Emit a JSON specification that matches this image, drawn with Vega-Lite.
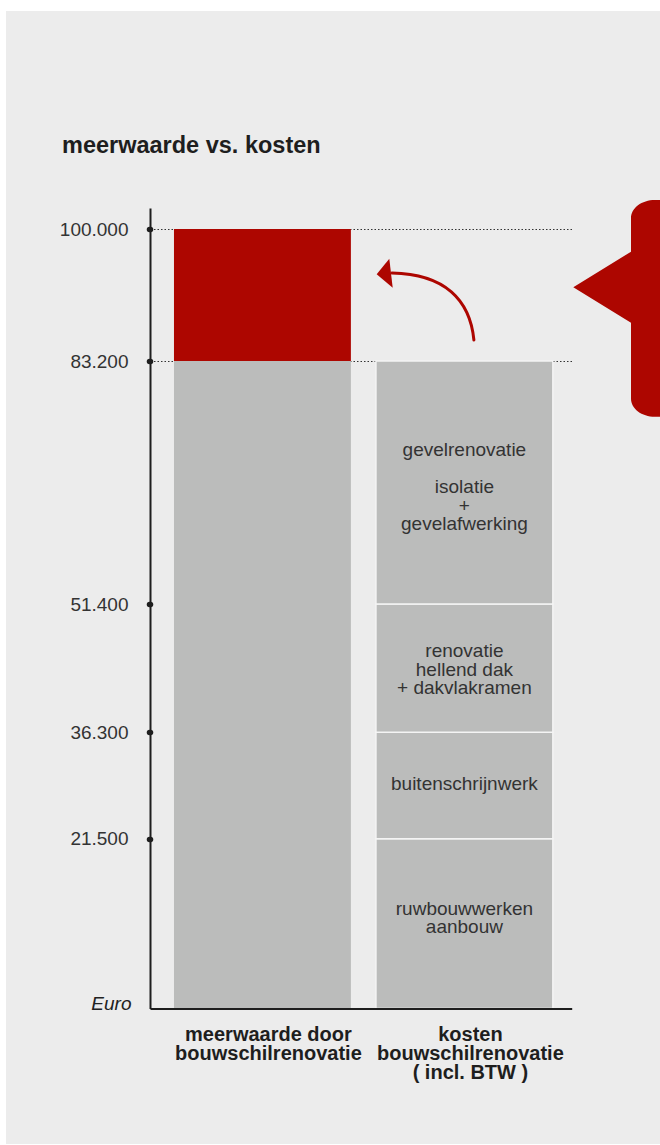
{
  "$schema": "https://vega.github.io/schema/vega-lite/v6.json",
  "description": "Meerwaarde door bouwschilrenovatie tegenover de kosten ervan (incl. BTW).",
  "width": 654,
  "height": 1133,
  "autosize": {"type": "none"},
  "padding": {"left": 6, "top": 11, "right": 0, "bottom": 1},
  "background": "#ffffff",
  "config": {
    "view": {"fill": "#ececec", "stroke": null},
    "font": "Liberation Sans",
    "text": {"fontSize": 19, "lineHeight": 18.5, "color": "#333333", "align": "center", "baseline": "middle", "lineBreak": "|"}
  },
  "title": {
    "text": "meerwaarde vs. kosten",
    "anchor": "start",
    "frame": "group",
    "orient": "top",
    "offset": 0,
    "dx": 56,
    "dy": 165,
    "baseline": "alphabetic",
    "fontSize": 23.5,
    "fontWeight": "bold",
    "color": "#1e1e1e"
  },
  "data": {
    "values": [
      {"kolom": "meerwaarde door|bouwschilrenovatie", "post": null, "soort": "gelijk aan kosten", "van": 0, "tot": 83200},
      {"kolom": "meerwaarde door|bouwschilrenovatie", "post": null, "soort": "extra meerwaarde", "van": 83200, "tot": 100000},
      {"kolom": "kosten|bouwschilrenovatie|( incl. BTW )", "post": "ruwbouwwerken|aanbouw", "soort": "gelijk aan kosten", "van": 0, "tot": 21500},
      {"kolom": "kosten|bouwschilrenovatie|( incl. BTW )", "post": "buitenschrijnwerk", "soort": "gelijk aan kosten", "van": 21500, "tot": 36300},
      {"kolom": "kosten|bouwschilrenovatie|( incl. BTW )", "post": "renovatie|hellend dak|+ dakvlakramen", "soort": "gelijk aan kosten", "van": 36300, "tot": 51400},
      {"kolom": "kosten|bouwschilrenovatie|( incl. BTW )", "post": "gevelrenovatie|\u200b|isolatie|+|gevelafwerking", "soort": "gelijk aan kosten", "van": 51400, "tot": 83200}
    ]
  },
  "layer": [
    {
      "mark": {"type": "bar", "stroke": "#f4f4f4"},
      "encoding": {
        "x": {
          "field": "kolom",
          "type": "nominal",
          "sort": null,
          "title": null,
          "scale": {
            "domain": ["meerwaarde door|bouwschilrenovatie", "kosten|bouwschilrenovatie|( incl. BTW )"],
            "range": [144, 565.7],
            "paddingInner": 0.124,
            "paddingOuter": 0.106,
            "align": 0.56
          },
          "axis": {
            "offset": -135.5,
            "zindex": 1,
            "domainColor": "#1e1e1e",
            "domainWidth": 2,
            "ticks": false,
            "tickSize": 0,
            "labelExpr": "split(datum.label, '|')",
            "labelAngle": 0,
            "labelFontSize": 20,
            "labelFontWeight": "bold",
            "labelColor": "#1e1e1e",
            "labelLineHeight": 19,
            "labelPadding": 16,
            "labelOffset": 6,
            "labelLimit": 0
          }
        },
        "y": {
          "field": "van",
          "type": "quantitative",
          "title": "Euro",
          "scale": {
            "domain": [0, 21500, 36300, 51400, 83200, 100000, 102800],
            "range": [997.5, 827.7, 721.3, 593, 350, 218, 197],
            "zero": false,
            "nice": false
          },
          "axis": {
            "titleAngle": 0,
            "titleAlign": "right",
            "titleBaseline": "alphabetic",
            "titleX": -19,
            "titleY": 998.5,
            "titleFontSize": 19,
            "titleFontStyle": "italic",
            "titleFontWeight": "normal",
            "titleColor": "#222222",
            "offset": -144,
            "values": [21500, 36300, 51400, 83200, 100000],
            "domainColor": "#1e1e1e",
            "domainWidth": 2,
            "ticks": true,
            "tickSize": 1,
            "tickWidth": 5.5,
            "tickCap": "round",
            "tickColor": "#1e1e1e",
            "labelExpr": "replace(format(datum.value, ','), ',', '.')",
            "labelFontSize": 19,
            "labelColor": "#333333",
            "labelPadding": 21,
            "grid": true,
            "gridColor": "#333333",
            "gridDash": [1.5, 2],
            "gridWidth": 1.2,
            "gridOpacity": {"condition": {"test": "datum.value >= 83200", "value": 1}, "value": 0}
          }
        },
        "y2": {"field": "tot"},
        "color": {
          "field": "soort",
          "type": "nominal",
          "scale": {"domain": ["gelijk aan kosten", "extra meerwaarde"], "range": ["#bbbcbb", "#ad0600"]},
          "legend": null
        },
        "strokeWidth": {"condition": {"test": "datum.post != null", "value": 1.5}, "value": 0}
      }
    },
    {
      "transform": [
        {"filter": "datum.post != null && length(split(datum.post, '|')) == 1"},
        {"fold": ["van", "tot"], "as": ["grens", "bedrag"]}
      ],
      "mark": {"type": "text", "dy": -2},
      "encoding": {
        "x": {"field": "kolom", "type": "nominal", "title": null},
        "y": {"aggregate": "mean", "field": "bedrag", "type": "quantitative", "title": "Euro"},
        "text": {"field": "post"}
      }
    },
    {
      "transform": [
        {"filter": "datum.post != null && length(split(datum.post, '|')) == 2"},
        {"fold": ["van", "tot"], "as": ["grens", "bedrag"]}
      ],
      "mark": {"type": "text", "dy": -15},
      "encoding": {
        "x": {"field": "kolom", "type": "nominal", "title": null},
        "y": {"aggregate": "mean", "field": "bedrag", "type": "quantitative", "title": "Euro"},
        "text": {"field": "post"}
      }
    },
    {
      "transform": [
        {"filter": "datum.post != null && length(split(datum.post, '|')) == 3"},
        {"fold": ["van", "tot"], "as": ["grens", "bedrag"]}
      ],
      "mark": {"type": "text", "dy": -17},
      "encoding": {
        "x": {"field": "kolom", "type": "nominal", "title": null},
        "y": {"aggregate": "mean", "field": "bedrag", "type": "quantitative", "title": "Euro"},
        "text": {"field": "post"}
      }
    },
    {
      "transform": [
        {"filter": "datum.post != null && length(split(datum.post, '|')) == 5"},
        {"fold": ["van", "tot"], "as": ["grens", "bedrag"]}
      ],
      "mark": {"type": "text", "dy": -32.5},
      "encoding": {
        "x": {"field": "kolom", "type": "nominal", "title": null},
        "y": {"aggregate": "mean", "field": "bedrag", "type": "quantitative", "title": "Euro"},
        "text": {"field": "post"}
      }
    },
    {
      "data": {"values": [{"annotatie": "tekstballon"}]},
      "mark": {
        "type": "point",
        "shape": "M 190.6 -161 L 260 -161 L 260 55.7 L 190.6 55.7 C 177.3 55.7 166.6 47.6 166.6 37.7 L 166.6 -38.3 L 108.9 -73.7 L 166.6 -109.3 L 166.6 -143 C 166.6 -152.9 177.3 -161 190.6 -161 Z",
        "size": 4,
        "filled": true,
        "color": "#ad0600",
        "opacity": 1,
        "strokeWidth": 0
      },
      "encoding": {
        "x": {"datum": "kosten|bouwschilrenovatie|( incl. BTW )", "type": "nominal", "title": null},
        "y": {"datum": 83200, "type": "quantitative", "title": "Euro"}
      }
    },
    {
      "data": {"values": [{"annotatie": "pijl"}]},
      "mark": {
        "type": "point",
        "shape": "M 9.5 -21 C 5.6 -61 -19.4 -87 -72.4 -88",
        "size": 4,
        "filled": false,
        "color": "#ad0600",
        "opacity": 1,
        "strokeWidth": 3,
        "strokeCap": "round"
      },
      "encoding": {
        "x": {"datum": "kosten|bouwschilrenovatie|( incl. BTW )", "type": "nominal", "title": null},
        "y": {"datum": 83200, "type": "quantitative", "title": "Euro"}
      }
    },
    {
      "data": {"values": [{"annotatie": "pijlpunt"}]},
      "mark": {
        "type": "point",
        "shape": "M -87.7 -86.7 L -75.1 -102.3 L -71.7 -73.3 Z",
        "size": 4,
        "filled": true,
        "color": "#ad0600",
        "opacity": 1,
        "strokeWidth": 0
      },
      "encoding": {
        "x": {"datum": "kosten|bouwschilrenovatie|( incl. BTW )", "type": "nominal", "title": null},
        "y": {"datum": 83200, "type": "quantitative", "title": "Euro"}
      }
    }
  ]
}
